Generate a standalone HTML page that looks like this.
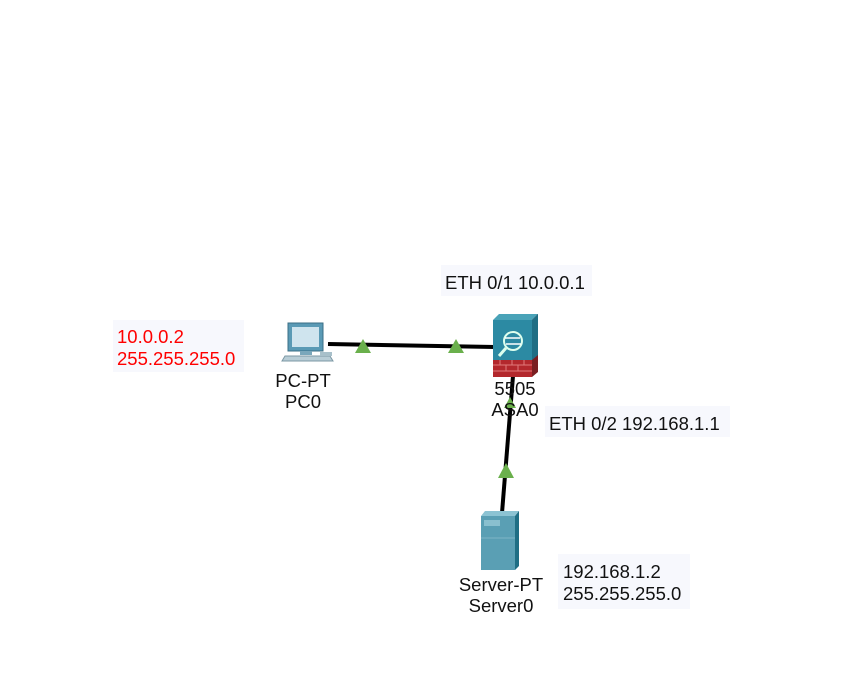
<!DOCTYPE html>
<html><head><meta charset="utf-8"><style>
html,body{margin:0;padding:0;background:#fff;}
body{width:865px;height:695px;position:relative;overflow:hidden;font-family:"Liberation Sans",Arial,sans-serif;}
.t{position:absolute;font-size:18.5px;line-height:20px;color:#111;white-space:nowrap;}
.box{position:absolute;background:#f7f8fd;}
.c{text-align:center;width:120px;}
</style></head><body>
<div class="box" style="left:441px;top:265px;width:151px;height:31px"></div>
<div class="t" style="left:445px;top:273px">ETH 0/1 10.0.0.1</div>
<div class="box" style="left:545px;top:406px;width:185px;height:31px"></div>
<div class="t" style="left:549px;top:414px">ETH 0/2 192.168.1.1</div>
<div class="box" style="left:113px;top:320px;width:131px;height:52px"></div>
<div class="t" style="left:117px;top:326px;color:#f00;line-height:22px">10.0.0.2<br>255.255.255.0</div>
<div class="box" style="left:558px;top:554px;width:132px;height:55px"></div>
<div class="t" style="left:563px;top:561px;line-height:22px">192.168.1.2<br>255.255.255.0</div>

<svg width="865" height="695" style="position:absolute;left:0;top:0">
<line x1="328" y1="344" x2="495" y2="347" stroke="#000" stroke-width="4"/>
<line x1="513" y1="376" x2="502" y2="513" stroke="#000" stroke-width="4"/>
<polygon points="363,339 355,353 371,353" fill="#6ab04c"/>
<polygon points="456,339 448,353 464,353" fill="#6ab04c"/>
<polygon points="506,463 498,478 514,478" fill="#6ab04c"/>
<polygon points="510,397 504,408 516,408" fill="#6ab04c"/>
<rect x="288" y="323" width="35" height="28" fill="#5a9ab5" stroke="#3b6f86"/>
<rect x="292" y="327" width="27" height="20" fill="#cfe4ee"/>
<rect x="300" y="351" width="12" height="4" fill="#7aa7bb"/>
<polygon points="285,356 330,356 333,361 282,361" fill="#b8cdd6" stroke="#7c98a4"/>
<rect x="320" y="352" width="12" height="4" fill="#a8c0ca"/>
<polygon points="493,320 499,314 538,314 532,320" fill="#4aa3b8"/>
<polygon points="532,320 538,314 538,372 532,377" fill="#7a1f22"/>
<polygon points="532,320 538,314 538,355 532,360" fill="#1f6e84"/>
<rect x="493" y="320" width="39" height="40" fill="#2c8aa3"/>
<rect x="493" y="360" width="39" height="17" fill="#b3282d"/>
<g stroke="#e07a7a" stroke-width="1">
<line x1="493" y1="365" x2="532" y2="365"/><line x1="493" y1="371" x2="532" y2="371"/>
<line x1="500" y1="360" x2="500" y2="365"/><line x1="512" y1="360" x2="512" y2="365"/><line x1="524" y1="360" x2="524" y2="365"/>
<line x1="506" y1="365" x2="506" y2="371"/><line x1="518" y1="365" x2="518" y2="371"/>
</g>
<circle cx="513" cy="341" r="9" fill="none" stroke="#dfe" stroke-width="2"/>
<line x1="506" y1="348" x2="499" y2="356" stroke="#dfe" stroke-width="3"/>
<line x1="505" y1="338" x2="520" y2="338" stroke="#fff" stroke-width="1.5"/>
<line x1="506" y1="344" x2="521" y2="344" stroke="#fff" stroke-width="1.5"/>
<polygon points="481,516 485,511 519,511 515,516" fill="#8cc3d3"/>
<polygon points="515,516 519,511 519,566 515,570" fill="#1f6e84"/>
<rect x="481" y="516" width="34" height="54" fill="#5a9fb4"/>
<rect x="484" y="520" width="16" height="6" fill="#8ac0cf"/>
<line x1="481" y1="538" x2="515" y2="538" stroke="#7fb6c6"/>
</svg>
<div class="t c" style="left:243px;top:371px">PC-PT</div>
<div class="t c" style="left:243px;top:392px">PC0</div>
<div class="t c" style="left:455px;top:379px">5505</div>
<div class="t c" style="left:455px;top:400px">ASA0</div>
<div class="t c" style="left:441px;top:575px">Server-PT</div>
<div class="t c" style="left:441px;top:596px">Server0</div>
</body></html>
